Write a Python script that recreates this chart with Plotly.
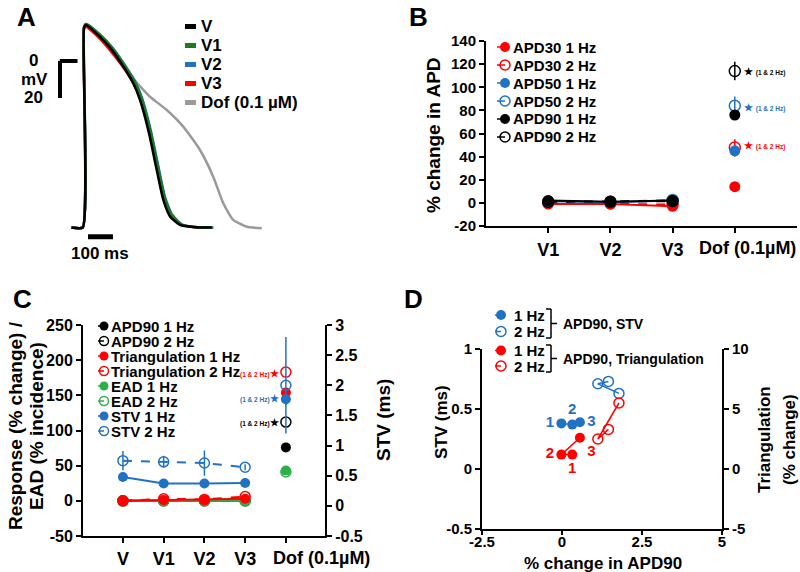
import plotly.graph_objects as go

W, H = 800, 572
FONT = "Arial, Liberation Sans, sans-serif"
RED = "#FF0000"
BLUE = "#2272C3"
GREEN = "#2DB04B"
DKGREEN = "#1E7A1E"
GRAY = "#9A9A9A"

# ---------------- data ----------------
# Panel A: action potentials, time (ms) vs membrane potential (mV)
t_v = [-50, -5, 0, 8, 64, 111, 157, 197, 224, 260, 288, 317, 344, 384, 440, 511]
ap_v = [-90, -90, 18, 19.5, 13, 6, -3, -12, -21, -39, -57, -75, -84, -88.6, -89.8, -90]
t_v1 = [-50, -5, 0, 8, 66, 114, 161, 202, 230, 266, 294, 323, 350, 390, 446, 515]
ap_v1 = [-90, -90, 18, 20, 14, 7, -2, -11, -20, -38, -56, -74, -83, -88.4, -89.7, -90]
t_v2 = [-50, -5, 0, 8, 66, 115, 162, 204, 232, 268, 296, 325, 352, 392, 448, 518]
ap_v2 = [-90, -90, 18, 20, 14, 7, -2, -11, -20, -38, -56, -74, -83, -88.4, -89.7, -90]
t_v3 = [-50, -5, 0, 8, 64, 112, 160, 201, 229, 265, 293, 322, 349, 389, 445, 512]
ap_v3 = [-90, -90, 17, 18.5, 12, 4.5, -4, -13, -22, -39, -57, -75, -84, -88.6, -89.8, -90]
t_dof = [-50, -5, 0, 8, 64, 111, 157, 200, 230, 264, 331, 397, 464, 517, 557, 597, 651, 711]
ap_dof = [-90, -90, 18.5, 19.5, 14, 6.5, -2, -10, -14.5, -19.3, -26.5, -35.5, -48.1, -62.5, -76.9, -85.9, -89.6, -90.4]
a_names = ["V", "V1", "V2", "V3", "Dof (0.1 µM)"]

# Panel B: % change in APD
b_cats = ["V1", "V2", "V3", "Dof (0.1µM)"]
apd30_1hz = [-1, -1, -3, 14]
apd30_1hz_err = [0.5, 0.5, 0.5, 2]
apd30_2hz = [0, -0.5, -1.5, 48]
apd30_2hz_err = [0.5, 0.5, 0.5, 7]
apd50_1hz = [1.5, 0.5, 2, 45]
apd50_1hz_err = [0.5, 0.5, 0.5, 5]
apd50_2hz = [1, 1, 2.5, 84]
apd50_2hz_err = [0.5, 0.5, 0.5, 8]
apd90_1hz = [2, 1, 2, 76]
apd90_1hz_err = [0.5, 0.5, 0.5, 4]
apd90_2hz = [1, 1, 1.5, 114]
apd90_2hz_err = [0.5, 0.5, 0.5, 8]

# Panel C: response / EAD incidence (left), STV (right)
c_cats = ["V", "V1", "V2", "V3", "Dof (0.1µM)"]
c_apd90_1hz = [0, 0, 0, 0, 76]
c_apd90_2hz = [0, 0, 0, 0, 112]
c_tri_1hz = [0, 1, 1, 3, 154]
c_tri_2hz = [0, 3, 2, 6, 183]
c_ead_1hz = [0, 0, 0, 0, 43]
c_ead_2hz = [0, 0, 0, 0, 41]
c_stv_1hz = [0.48, 0.37, 0.37, 0.38, 1.77]
c_stv_1hz_err = [0.02, 0.02, 0.02, 0.02, 0.1]
c_stv_2hz = [0.75, 0.73, 0.71, 0.64, 2.0]
c_stv_2hz_err = [0.16, 0.1, 0.21, 0.05, 0.8]

# Panel D: STV / triangulation vs % change in APD90 (V1, V2, V3)
d_labels = ["1", "2", "3"]
d_apd90_1hz_stv = [-0.02, 0.32, 0.56]
d_stv_1hz = [0.38, 0.37, 0.39]
d_apd90_2hz_stv = [1.45, 1.12, 1.78]
d_stv_2hz = [0.73, 0.71, 0.63]
d_apd90_1hz_tri = [0.32, -0.02, 0.56]
d_tri_1hz = [1.2, 1.2, 2.6]
d_apd90_2hz_tri = [1.45, 1.12, 1.78]
d_tri_2hz = [3.3, 2.5, 5.5]


# ---------------- helpers ----------------
def px(x):
    return x / W


def py(y):
    return 1 - y / H


annotations = []
shapes = []


def ann(x, y, text, size=15, color="black", xanchor="center", yanchor="middle", angle=0):
    annotations.append(dict(x=px(x), y=py(y), xref="paper", yref="paper", text=text,
                            showarrow=False, xanchor=xanchor, yanchor=yanchor, textangle=angle,
                            font=dict(family=FONT, size=size, color=color, weight="bold")))


def pline(x0, y0, x1, y1, color="black", width=2):
    shapes.append(dict(type="line", xref="paper", yref="paper", x0=px(x0), y0=py(y0),
                       x1=px(x1), y1=py(y1), line=dict(color=color, width=width)))


def leg_marker(xc, yc, color, filled, r=5, stub=8):
    pline(xc - stub, yc, xc, yc, color, 1.5)
    shapes.append(dict(type="circle", xref="paper", yref="paper",
                       x0=px(xc - r), x1=px(xc + r), y0=py(yc + r), y1=py(yc - r),
                       fillcolor=color if filled else "rgba(0,0,0,0)",
                       line=dict(color=color, width=0 if filled else 1.5)))


def mk(color, filled, size):
    if filled:
        return dict(symbol="circle", size=size, color=color, line=dict(width=0))
    return dict(symbol="circle-open", size=size, color=color, line=dict(width=1.5, color=color))


fig = go.Figure()

# ---------------- panel A ----------------
for t, v, c in [(t_dof, ap_dof, GRAY), (t_v3, ap_v3, RED), (t_v2, ap_v2, BLUE),
                (t_v1, ap_v1, DKGREEN), (t_v, ap_v, "black")]:
    fig.add_trace(go.Scatter(x=t, y=v, mode="lines", xaxis="x", yaxis="y",
                             line=dict(color=c, width=2.5, shape="spline", smoothing=0.5),
                             showlegend=False, hoverinfo="skip"))

# scale bars (data units of panel A)
shapes.append(dict(type="line", xref="x", yref="y", x0=-96, x1=-96, y0=0, y1=-20,
                   line=dict(color="black", width=4)))
shapes.append(dict(type="line", xref="x", yref="y", x0=-97, x1=-26, y0=0, y1=0,
                   line=dict(color="black", width=4)))
shapes.append(dict(type="line", xref="x", yref="y", x0=16, x1=116, y0=-95, y1=-95,
                   line=dict(color="black", width=5)))
ann(33, 60, "0", 17)
ann(34, 79, "mV", 17)
ann(33, 97, "20", 17)
ann(100, 253, "100 ms", 17)
for i, (name, c) in enumerate(zip(a_names, ["black", DKGREEN, BLUE, RED, GRAY])):
    yy = 26.5 + i * 19
    shapes.append(dict(type="rect", xref="paper", yref="paper", x0=px(185), x1=px(196),
                       y0=py(yy + 2.5), y1=py(yy - 2.5), fillcolor=c, line=dict(width=0)))
    ann(199, yy, name, 17, xanchor="left")
ann(26, 17, "A", 26)

# ---------------- panel B ----------------
b_series = [
    (apd30_1hz, apd30_1hz_err, RED, True, "solid"),
    (apd30_2hz, apd30_2hz_err, RED, False, "dash"),
    (apd50_1hz, apd50_1hz_err, BLUE, True, "solid"),
    (apd50_2hz, apd50_2hz_err, BLUE, False, "dash"),
    (apd90_1hz, apd90_1hz_err, "black", True, "solid"),
    (apd90_2hz, apd90_2hz_err, "black", False, "dash"),
]
for vals, errs, c, filled, dash in b_series:
    fig.add_trace(go.Scatter(x=b_cats[:3], y=vals[:3], mode="lines+markers", xaxis="x2", yaxis="y2",
                             line=dict(color=c, width=2, dash=dash), marker=mk(c, filled, 11),
                             showlegend=False, hoverinfo="skip"))
    fig.add_trace(go.Scatter(x=b_cats[3:], y=vals[3:], mode="markers", xaxis="x2", yaxis="y2",
                             marker=mk(c, filled, 11),
                             error_y=dict(type="data", array=errs[3:], color=c, thickness=1.5, width=0),
                             showlegend=False, hoverinfo="skip"))

b_leg = [("APD30 1 Hz", RED, True), ("APD30 2 Hz", RED, False), ("APD50 1 Hz", BLUE, True),
         ("APD50 2 Hz", BLUE, False), ("APD90 1 Hz", "black", True), ("APD90 2 Hz", "black", False)]
for i, (name, c, filled) in enumerate(b_leg):
    yy = 47 + i * 18
    leg_marker(505, yy, c, filled)
    ann(511, yy, name, 15, xanchor="left")
star_small = "★ <span style='font-size:6.5px'>(1 &amp; 2 Hz)</span>"
ann(742, 71, star_small, 10, "black", xanchor="left")
ann(742, 107, star_small, 10, BLUE, xanchor="left")
ann(742, 146, star_small, 10, RED, xanchor="left")
ann(747, 248, "Dof (0.1µM)", 18)
ann(433, 135, "% change in APD", 19, angle=-90)
ann(418, 17, "B", 26)

# ---------------- panel C ----------------
c_left = [
    (c_apd90_1hz, "black", True, "solid"),
    (c_apd90_2hz, "black", False, "dash"),
    (c_ead_1hz, GREEN, True, "solid"),
    (c_ead_2hz, GREEN, False, "dash"),
    (c_tri_1hz, RED, True, "solid"),
    (c_tri_2hz, RED, False, "dash"),
]
for vals, c, filled, dash in c_left:
    fig.add_trace(go.Scatter(x=c_cats[:4], y=vals[:4], mode="lines+markers", xaxis="x3", yaxis="y3",
                             line=dict(color=c, width=2, dash=dash), marker=mk(c, filled, 10),
                             showlegend=False, hoverinfo="skip"))
    fig.add_trace(go.Scatter(x=c_cats[4:], y=vals[4:], mode="markers", xaxis="x3", yaxis="y3",
                             marker=mk(c, filled, 10), showlegend=False, hoverinfo="skip"))
for vals, errs, filled, dash in [(c_stv_1hz, c_stv_1hz_err, True, "solid"),
                                 (c_stv_2hz, c_stv_2hz_err, False, "dash")]:
    fig.add_trace(go.Scatter(x=c_cats[:4], y=vals[:4], mode="lines+markers", xaxis="x3", yaxis="y4",
                             line=dict(color=BLUE, width=2, dash=dash), marker=mk(BLUE, filled, 10),
                             error_y=dict(type="data", array=errs[:4], color=BLUE, thickness=1.5, width=0),
                             showlegend=False, hoverinfo="skip"))
    fig.add_trace(go.Scatter(x=c_cats[4:], y=vals[4:], mode="markers", xaxis="x3", yaxis="y4",
                             marker=mk(BLUE, filled, 10),
                             error_y=dict(type="data", array=errs[4:], color=BLUE, thickness=1.5, width=0),
                             showlegend=False, hoverinfo="skip"))

c_leg = [("APD90 1 Hz", "black", True), ("APD90 2 Hz", "black", False),
         ("Triangulation 1 Hz", RED, True), ("Triangulation 2 Hz", RED, False),
         ("EAD 1 Hz", GREEN, True), ("EAD 2 Hz", GREEN, False),
         ("STV 1 Hz", BLUE, True), ("STV 2 Hz", BLUE, False)]
for i, (name, c, filled) in enumerate(c_leg):
    yy = 326 + i * 15
    leg_marker(104, yy, c, filled, r=4.5, stub=6)
    ann(109, yy, name, 15, xanchor="left")
star_left = "<span style='font-size:6.5px'>(1 &amp; 2 Hz)</span>★"
ann(281, 373, star_left, 10, RED, xanchor="right")
ann(281, 398, star_left, 10, BLUE, xanchor="right")
ann(281, 422, star_left, 10, "black", xanchor="right")
ann(321, 558, "Dof (0.1µM)", 18)
ann(15, 426, "Response (% change) /", 19, angle=-90)
ann(36, 426, "EAD (% incidence)", 19, angle=-90)
ann(383, 420, "STV (ms)", 19, angle=-90)
ann(22, 299, "C", 26)

# ---------------- panel D ----------------
fig.add_trace(go.Scatter(x=d_apd90_1hz_stv, y=d_stv_1hz, mode="lines+markers+text", xaxis="x5", yaxis="y5",
                         text=d_labels, textposition=["middle left", "top center", "middle right"],
                         textfont=dict(family=FONT, size=15, color=BLUE, weight="bold"),
                         line=dict(color=BLUE, width=1.5), marker=mk(BLUE, True, 10),
                         showlegend=False, hoverinfo="skip"))
fig.add_trace(go.Scatter(x=d_apd90_2hz_stv, y=d_stv_2hz, mode="lines+markers", xaxis="x5", yaxis="y5",
                         line=dict(color=BLUE, width=1.5), marker=mk(BLUE, False, 10),
                         showlegend=False, hoverinfo="skip"))
fig.add_trace(go.Scatter(x=d_apd90_1hz_tri, y=d_tri_1hz, mode="lines+markers+text", xaxis="x5", yaxis="y6",
                         text=d_labels, textposition=["bottom center", "middle left", "bottom right"],
                         textfont=dict(family=FONT, size=15, color=RED, weight="bold"),
                         line=dict(color=RED, width=1.5), marker=mk(RED, True, 10),
                         showlegend=False, hoverinfo="skip"))
fig.add_trace(go.Scatter(x=d_apd90_2hz_tri, y=d_tri_2hz, mode="lines+markers", xaxis="x5", yaxis="y6",
                         line=dict(color=RED, width=1.5), marker=mk(RED, False, 10),
                         showlegend=False, hoverinfo="skip"))

for i, (c, filled) in enumerate([(BLUE, True), (BLUE, False), (RED, True), (RED, False)]):
    yy = [315, 331.5, 350.5, 366][i]
    leg_marker(501, yy, c, filled, r=5, stub=6)
    ann(512, yy, ["1 Hz", "2 Hz", "1 Hz", "2 Hz"][i], 15, xanchor="left")
for top, bot in [(309, 338), (345, 372)]:
    pline(551, top, 551, bot, "black", 1.5)
    pline(546, top, 551, top, "black", 1.5)
    pline(546, bot, 551, bot, "black", 1.5)
    pline(551, (top + bot) / 2, 557, (top + bot) / 2, "black", 1.5)
ann(561, 323.5, "APD90, STV", 14, xanchor="left")
ann(561, 358.5, "APD90, Triangulation", 14, xanchor="left")
ann(603, 563, "% change in APD90", 17)
ann(441, 422, "STV (ms)", 17, angle=-90)
ann(764, 440, "Triangulation", 17, angle=-90)
ann(789, 440, "(% change)", 17, angle=-90)
ann(414, 299, "D", 26)


# ---------------- axes ----------------
def ax(size=15, **kw):
    d = dict(showline=True, linecolor="black", linewidth=2, ticks="outside", ticklen=5,
             tickwidth=2, tickcolor="black", showgrid=False, zeroline=False, fixedrange=True,
             automargin=False,
             tickfont=dict(family=FONT, size=size, color="black", weight="bold"))
    d.update(kw)
    return d


def dx(a, b):
    return [px(a), px(b)]


def dy(top, bot):
    return [py(bot), py(top)]


fig.update_layout(
    width=W, height=H, autosize=False,
    margin=dict(l=0, r=0, t=0, b=0, pad=0, autoexpand=False),
    paper_bgcolor="white", plot_bgcolor="rgba(0,0,0,0)",
    showlegend=False,
    annotations=annotations, shapes=shapes,
    xaxis=dict(domain=dx(40, 300), range=[(40 - 84) * 4, (300 - 84) * 4], visible=False,
               anchor="y", fixedrange=True),
    yaxis=dict(domain=dy(10, 260), range=[(61 - 260) / 1.85, (61 - 10) / 1.85], visible=False,
               anchor="x", fixedrange=True),
    xaxis2=ax(18, domain=dx(486, 797), type="category", categoryorder="array",
              categoryarray=c_cats, range=[0, 5], anchor="y2",
              tickvals=b_cats, ticktext=["V1", "V2", "V3", ""], ticklabelstandoff=1),
    yaxis2=ax(15, domain=dy(41, 226), range=[-20, 140], anchor="x2",
              tickvals=[-20, 0, 20, 40, 60, 80, 100, 120, 140],
              ticktext=["-20", "0", "20", "40", "60", "80", "100", "120", "140"]),
    xaxis3=ax(18, domain=dx(83, 325), type="category", categoryorder="array",
              categoryarray=c_cats, range=[-0.98, 4.96], anchor="y3",
              tickvals=c_cats, ticktext=["V", "V1", "V2", "V3", ""], ticklabelstandoff=0),
    yaxis3=ax(16, domain=dy(325, 536), range=[-50, 250], anchor="x3",
              tickvals=[-50, 0, 50, 100, 150, 200, 250],
              ticktext=["-50", "0", "50", "100", "150", "200", "250"]),
    yaxis4=ax(16, overlaying="y3", side="right", range=[-0.5, 3], anchor="x3",
              tickvals=[-0.5, 0, 0.5, 1, 1.5, 2, 2.5, 3],
              ticktext=["-0.5", "0", "0.5", "1", "1.5", "2", "2.5", "3"]),
    xaxis5=ax(15, domain=dx(482, 722), range=[-2.5, 5], anchor="y5", ticklen=4,
              tickvals=[-2.5, 0, 2.5, 5], ticktext=["-2.5", "0", "2.5", "5"], ticklabelstandoff=-6),
    yaxis5=ax(15, domain=dy(349, 529), range=[-0.5, 1], anchor="x5",
              tickvals=[-0.5, 0, 0.5, 1], ticktext=["-0.5", "0", "0.5", "1"]),
    yaxis6=ax(15, overlaying="y5", side="right", range=[-5, 10], anchor="x5",
              tickvals=[-5, 0, 5, 10], ticktext=["-5", "0", "5", "10"]),
)

fig.write_html("out.html", config={"displayModeBar": False, "staticPlot": True},
               post_script="document.body.style.margin='0';document.body.style.overflow='hidden';")
